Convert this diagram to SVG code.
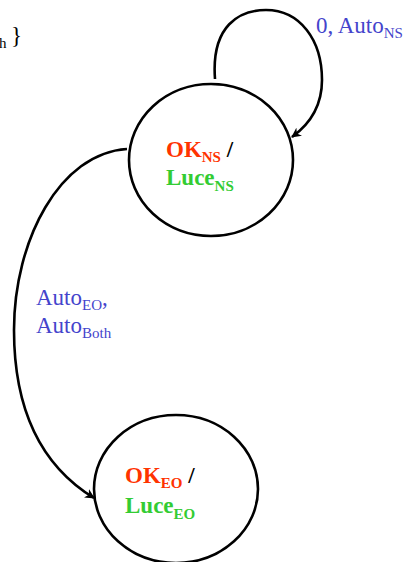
<svg xmlns="http://www.w3.org/2000/svg" width="410" height="562" viewBox="0 0 410 562">
<defs>
<style>
.st{fill:none;stroke:#000;stroke-width:2.6}
.t{font-family:"Liberation Serif","Times New Roman",serif;font-size:23px}
.b{font-weight:bold}
.ok{fill:#ff3300}
.lu{fill:#33cc33}
.bl{fill:#4444cc}
.k{fill:#000}
.sub{font-size:15px}
</style>
<marker id="ar" viewBox="0 0 10 10" refX="9" refY="5" markerWidth="10" markerHeight="10" markerUnits="userSpaceOnUse" orient="auto">
<path d="M0,0 L10,5 L0,10 L3,5 z" fill="#000"/>
</marker>
</defs>
<rect width="410" height="562" fill="#fff"/>
<g id="connectors">
<path class="st" d="M215,79 C211,25 240,10 266,10 C300,10 322,40 322,80 C322,105 310,124 292,137" marker-end="url(#ar)"/>
<path class="st" d="M127,149 C60,153 14,240 14,330 C14,415 45,468 94,498" marker-end="url(#ar)"/>
</g>
<g id="labels">
<text class="t k" x="-1" y="48"><tspan class="sub">h</tspan></text>
<text class="t k" x="11" y="43">}</text>
<text class="t bl" x="316" y="33">0, Auto<tspan class="sub" dy="5">NS</tspan></text>
<text class="t bl" x="36" y="305">Auto<tspan class="sub" dy="5">EO</tspan><tspan dy="-5">,</tspan></text>
<text class="t bl" x="36" y="333">Auto<tspan class="sub" dy="5">Both</tspan></text>
</g>
<g id="node-ns">
<ellipse class="st" cx="211" cy="160" rx="82" ry="76"/>
<text class="t b" x="166" y="157"><tspan class="ok">OK</tspan><tspan class="ok sub" dy="5">NS</tspan><tspan class="k" dy="-5"> /</tspan></text>
<text class="t b lu" x="166" y="185">Luce<tspan class="sub" dy="6">NS</tspan></text>
</g>
<g id="node-eo">
<ellipse class="st" cx="176" cy="489" rx="82" ry="74"/>
<text class="t b" x="125" y="483"><tspan class="ok">OK</tspan><tspan class="ok sub" dy="5">EO</tspan><tspan class="k" dy="-5"> /</tspan></text>
<text class="t b lu" x="125" y="513">Luce<tspan class="sub" dy="6">EO</tspan></text>
</g>
</svg>
